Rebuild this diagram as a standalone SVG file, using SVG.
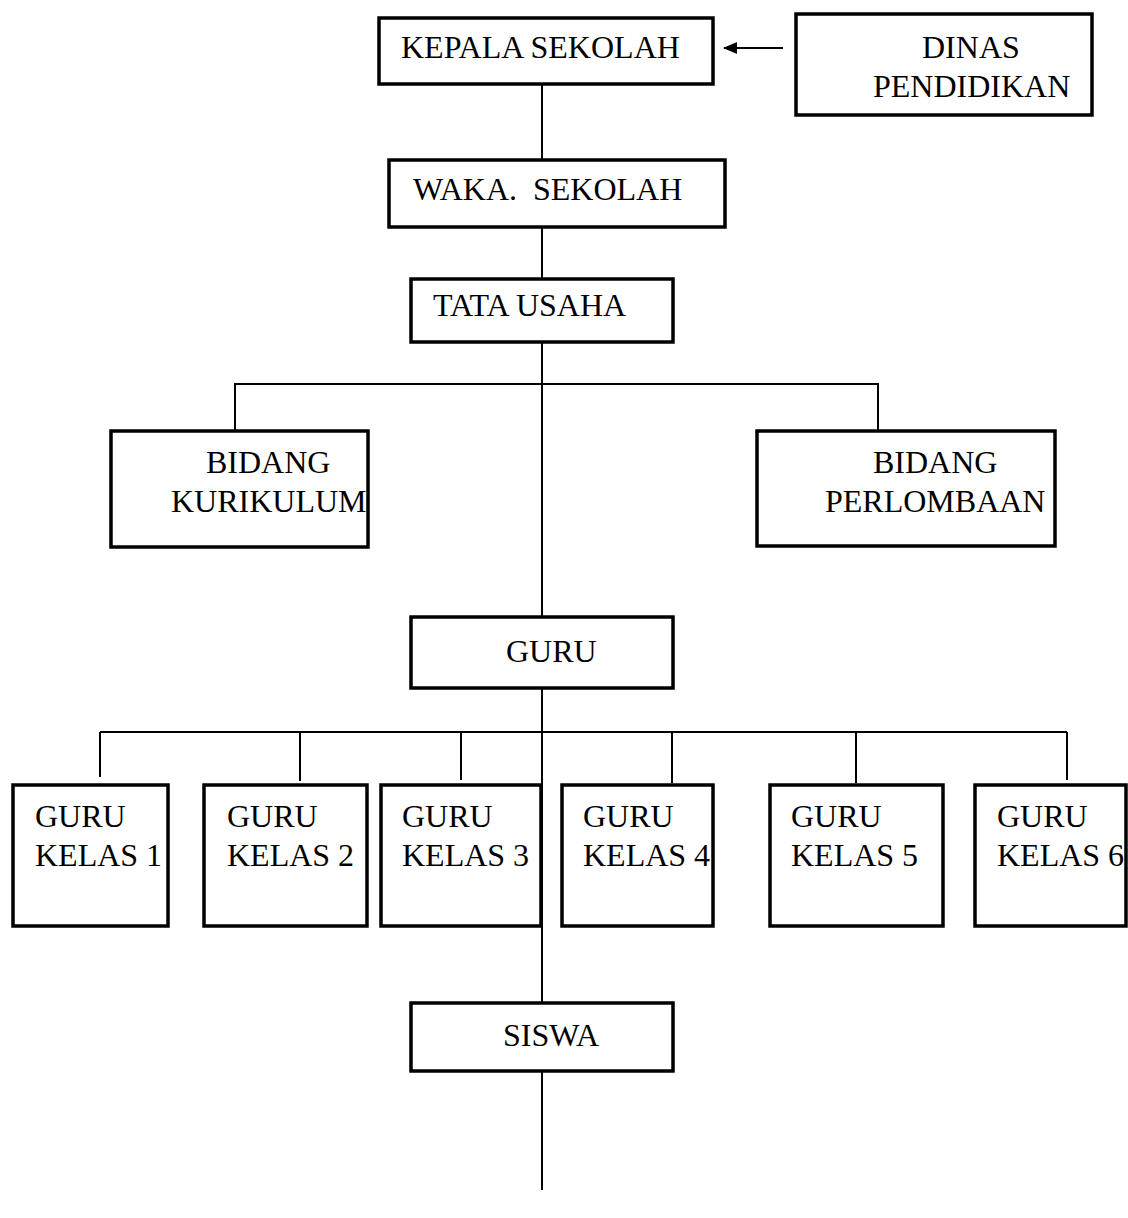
<svg xmlns="http://www.w3.org/2000/svg" width="1128" height="1218" viewBox="0 0 1128 1218">
<defs>
<style>
.box{fill:#fff;stroke:#000;stroke-width:3.5}
.ln{stroke:#000;stroke-width:2;fill:none}
</style>
<marker id="ah" markerWidth="14" markerHeight="12" refX="13" refY="6" orient="auto" markerUnits="userSpaceOnUse">
<path d="M0,0 L14,6 L0,12 Z" fill="#000"/>
</marker>
</defs>
<rect width="1128" height="1218" fill="#fff"/>
<g id="connectors">
<line class="ln" x1="542" y1="84" x2="542" y2="160"/>
<line class="ln" x1="542" y1="227" x2="542" y2="281"/>
<line class="ln" x1="542" y1="342" x2="542" y2="617"/>
<line class="ln" x1="542" y1="688" x2="542" y2="1003"/>
<line class="ln" x1="542" y1="1071" x2="542" y2="1190"/>
<polyline class="ln" points="235,431 235,384 878,384 878,431"/>
<line class="ln" x1="100" y1="732" x2="1067" y2="732"/>
<line class="ln" x1="100" y1="732" x2="100" y2="777"/>
<line class="ln" x1="300" y1="733" x2="300" y2="781"/>
<line class="ln" x1="461" y1="733" x2="461" y2="780"/>
<line class="ln" x1="672" y1="733" x2="672" y2="783"/>
<line class="ln" x1="856" y1="733" x2="856" y2="783"/>
<line class="ln" x1="1067" y1="732" x2="1067" y2="780"/>
<line class="ln" x1="783" y1="48" x2="724" y2="48" marker-end="url(#ah)"/>
</g>
<g font-family="Liberation Serif, Times New Roman, DejaVu Serif, serif" font-size="32" fill="#000">
<g id="kepala"><rect class="box" x="379" y="18" width="334" height="66"/><text x="401" y="58">KEPALA SEKOLAH</text></g>
<g id="dinas"><rect class="box" x="796" y="14" width="296" height="101"/><text x="922" y="58">DINAS</text><text x="873" y="97">PENDIDIKAN</text></g>
<g id="waka"><rect class="box" x="389" y="160" width="336" height="67"/><text x="413" y="200" xml:space="preserve">WAKA.  SEKOLAH</text></g>
<g id="tu"><rect class="box" x="411" y="279" width="262" height="63"/><text x="433" y="316">TATA USAHA</text></g>
<g id="kurikulum"><rect class="box" x="111" y="431" width="257" height="116"/><text x="206" y="473">BIDANG</text><text x="171" y="512">KURIKULUM</text></g>
<g id="perlombaan"><rect class="box" x="757" y="431" width="298" height="115"/><text x="873" y="473">BIDANG</text><text x="825" y="512">PERLOMBAAN</text></g>
<g id="guru"><rect class="box" x="411" y="617" width="262" height="71"/><text x="506" y="662">GURU</text></g>
<g id="k1"><rect class="box" x="13" y="785" width="155" height="141"/><text x="35" y="827">GURU</text><text x="35" y="866">KELAS 1</text></g>
<g id="k2"><rect class="box" x="204" y="785" width="163" height="141"/><text x="227" y="827">GURU</text><text x="227" y="866">KELAS 2</text></g>
<g id="k3"><rect class="box" x="381" y="785" width="160" height="141"/><text x="402" y="827">GURU</text><text x="402" y="866">KELAS 3</text></g>
<g id="k4"><rect class="box" x="562" y="785" width="151" height="141"/><text x="583" y="827">GURU</text><text x="583" y="866">KELAS 4</text></g>
<g id="k5"><rect class="box" x="770" y="785" width="173" height="141"/><text x="791" y="827">GURU</text><text x="791" y="866">KELAS 5</text></g>
<g id="k6"><rect class="box" x="975" y="785" width="151" height="141"/><text x="997" y="827">GURU</text><text x="997" y="866">KELAS 6</text></g>
<g id="siswa"><rect class="box" x="411" y="1003" width="262" height="68"/><text x="503" y="1046">SISWA</text></g>
</g>
</svg>
